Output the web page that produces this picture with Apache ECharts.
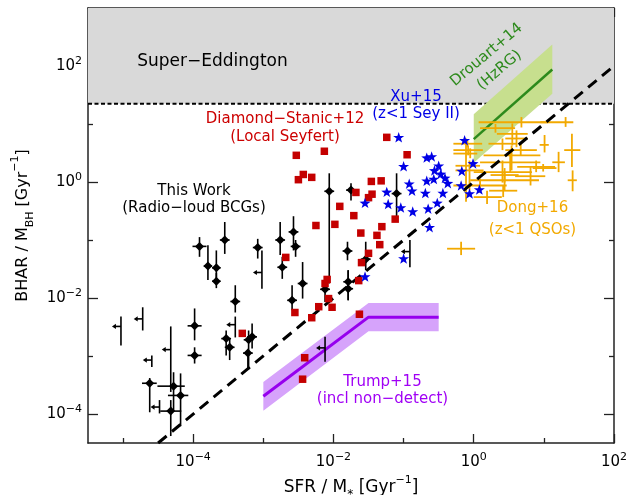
<!DOCTYPE html>
<html><head><meta charset="utf-8">
<script src="https://cdn.jsdelivr.net/npm/echarts@6/dist/echarts.min.js"></script>
<style>html,body{margin:0;padding:0;background:#fff}#c{width:631px;height:495px}</style>
</head><body><div id="c"></div>
<script>
// All values are log10 of the quantities (axes show 10^n)
const xMin = -5.5, xMax = 2, yMin = -4.5, yMax = 3;
const xMajorTicks = [-4, -2, 0, 2];
const xMinorTicks = [-5, -3, -1, 1];
const yMajorTicks = [-4, -2, 0, 2];
const yMinorTicks = [-3, -1, 1];

// This Work (radio-loud BCGs): detections with error bars
const thisWorkX   = [-4.62,-4.28,-4.18,-4.32,-3.98,-3.98,-3.91,-3.55,-3.79,-3.67,-3.67,-3.08,-2.76,-2.57,-2.54,-2.73,-2.44,-2.59,-2.06,-1.75,-1.10,-1.80,-1.54,-2.12,-1.79,-1.79,-3.40,-3.53,-3.48,-3.21,-3.16,-3.22];
const thisWorkY   = [-3.47,-3.52,-3.68,-3.95,-2.48,-2.99,-1.11,-1.00,-1.45,-1.48,-1.71,-1.13,-1.00,-0.86,-1.11,-1.47,-1.75,-2.04,-0.16,-0.14,-0.20,-1.19,-1.33,-1.85,-1.72,-1.84,-2.06,-2.70,-2.85,-2.72,-2.67,-2.95];
const thisWorkXLo = [-4.73,-4.51,-4.36,-4.47,-4.08,-4.08,-4.01,-3.62,-3.85,-3.73,-3.73,-3.15,-2.83,-2.64,-2.61,-2.80,-2.51,-2.66,-2.13,-1.82,-1.17,-1.87,-1.61,-2.19,-1.86,-1.86,-3.47,-3.60,-3.55,-3.28,-3.23,-3.29];
const thisWorkXHi = [-4.52,-4.12,-4.07,-4.17,-3.88,-3.88,-3.81,-3.48,-3.73,-3.61,-3.61,-3.01,-2.69,-2.50,-2.47,-2.66,-2.37,-2.52,-1.99,-1.68,-1.03,-1.73,-1.47,-2.05,-1.72,-1.72,-3.33,-3.46,-3.41,-3.14,-3.09,-3.15];
const thisWorkYLo = [-3.97,-3.94,-4.21,-4.38,-2.73,-3.13,-1.29,-1.24,-1.69,-1.67,-1.83,-1.32,-1.26,-1.18,-1.29,-1.67,-2.01,-2.21,-1.75,-0.32,-0.63,-1.35,-1.52,-2.07,-2.04,-2.04,-2.25,-2.99,-3.07,-3.23,-2.87,-3.22];
const thisWorkYHi = [-3.38,-3.28,-3.30,-3.76,-2.18,-2.85,-0.95,-0.69,-1.09,-1.18,-1.57,-0.98,-0.69,-0.59,-1.00,-1.29,-1.38,-1.78, 0.15,-0.02, 0.15,-1.03,-1.03,-1.64,-1.52,-1.52,-1.78,-2.56,-2.69,-2.56,-2.44,-2.95];

// This Work: SFR upper limits
const limitX   = [-5.03,-4.72,-4.59,-4.48,-4.32,-3.02,-3.40,-2.12,-0.91];
const limitY   = [-2.49,-2.36,-3.07,-3.88,-2.89,-1.56,-2.46,-2.86,-1.20];
const limitYLo = [-2.82,-2.56,-3.19,-3.99,-3.62,-1.84,-2.68,-3.10,-1.47];
const limitYHi = [-2.32,-2.16,-2.99,-3.76,-2.49,-1.18,-2.32,-2.67,-1.00];

// Diamond-Stanic+12 (local Seyferts)
const diamondX = [-2.53,-2.50,-2.43,-2.31,-2.25,-1.24,-2.13,-0.95,-1.46,-1.32,-1.45,-1.50,-1.68,-1.91,-1.71,-1.98,-1.12,-1.61,-1.31,-1.38,-1.34,-2.68,-1.50,-1.60,-2.55,-3.30,-2.21,-2.31,-2.09,-2.12,-2.07,-2.02,-1.64,-1.63,-2.41,-2.44];
const diamondY = [0.46,0.04,0.13,0.08,-0.75,0.77,0.53,0.47,0.01,0.02,-0.21,-0.27,-0.18,-0.42,-0.58,-0.73,-0.64,-0.88,-0.77,-0.92,-1.08,-1.30,-1.23,-1.39,-2.25,-2.61,-2.15,-2.34,-1.68,-1.75,-2.01,-2.16,-1.70,-2.28,-3.03,-3.40];

// Xu+15 (z<1 Sey II)
const xuX = [-1.07,-0.13,-1.00,-0.67,-0.60,-0.50,-0.56,-0.47,-0.57,-0.67,-0.41,-0.37,-0.92,-0.88,-1.24,-0.69,-0.44,-1.55,-1.22,-1.04,-0.52,-0.87,-0.65,-0.63,-0.17,-0.18,-0.06,0.08,-0.01,-1.00,-1.55];
const xuY = [0.77,0.72,0.27,0.42,0.44,0.28,0.20,0.14,0.05,0.02,0.07,-0.02,-0.03,-0.15,-0.17,-0.19,-0.19,-0.36,-0.38,-0.44,-0.36,-0.51,-0.46,-0.78,0.19,-0.06,-0.20,-0.13,0.32,-1.32,-1.63];

// Dong+16 (z<1 QSOs), error-bar crosses
const dongX   = [0.68,1.31,0.55,0.61,-0.09,0.41,-0.08,0.54,0.52,0.89,-0.06,0.41,0.44,0.44,0.09,0.42,1.01,1.40,1.21,1.41,0.99,-0.18,-0.11,-0.05,0.31,0.81,0.67,0.19];
const dongXLo = [0.07,0.95,0.33,0.45,-0.29,0.21,-0.29,0.14,0.09,0.62,-0.26,0.00,0.24,-0.05,-0.29,0.22,0.94,1.29,1.12,1.34,0.84,-0.38,-0.26,-0.29,0.09,0.59,0.45,0.00];
const dongXHi = [1.06,1.42,0.77,0.77,0.12,0.62,0.13,0.95,0.95,1.16,0.14,0.83,0.64,0.93,0.47,0.62,1.07,1.52,1.30,1.47,1.18,0.02,0.09,0.05,0.59,1.02,0.90,0.40];
const dongY   = [1.03,1.03,0.83,0.75,0.66,0.66,0.55,0.46,0.34,0.26,0.20,0.17,0.12,0.03,-0.06,-0.15,0.64,0.55,0.34,0.03,0.24,-1.15,0.28,0.49,0.93,0.10,0.55,-0.26];
const dongYLo = [0.94,0.95,0.63,0.60,0.60,0.55,0.46,0.20,0.17,0.17,-0.14,-0.01,-0.01,-0.14,-0.18,-0.26,0.51,0.26,0.17,-0.16,0.18,-1.26,-0.34,0.41,0.85,-0.06,0.45,-0.38];
const dongYHi = [1.12,1.12,1.01,0.89,0.72,0.75,0.63,0.63,0.55,0.37,0.37,0.37,0.24,0.17,0.06,-0.06,0.81,0.83,0.52,0.20,0.31,-1.03,0.75,0.58,1.00,0.27,0.66,-0.15];

// Trump+15 relation and band
const trumpX     = [-3.0, -1.5, -0.5];
const trumpY     = [-3.695, -2.33, -2.33];
const trumpUpper = [-3.45, -2.085, -2.085];
const trumpLower = [-3.945, -2.575, -2.575];

// Drouart+14 relation and band
const drouartX     = [0.0, 1.12];
const drouartY     = [0.74, 1.94];
const drouartUpper = [1.17, 2.37];
const drouartLower = [0.33, 1.52];

// Eddington limit and 1:1 line
const eddingtonY = 1.35;
const oneToOneX = [-4.5, 2];
const oneToOneY = [-4.5, 2];

const FONT = 'DejaVu Sans';
const zip = (...arrs) => arrs[0].map((_, i) => arrs.map(a => a[i]));

function bandSeries(xs, up, lo, color, z) {
  return {
    type: 'custom', z: z, silent: true, clip: false,
    data: [[xs[0], up[0]]], encode: { x: 0, y: 1 },
    renderItem: function (p, api) {
      const pts = xs.map((x, i) => api.coord([x, up[i]]));
      for (let i = xs.length - 1; i >= 0; i--) pts.push(api.coord([xs[i], lo[i]]));
      return { type: 'polygon', shape: { points: pts }, style: { fill: color } };
    }
  };
}

function crossSeries(data, color, width, z) {
  return {
    type: 'custom', z: z, silent: true, clip: true,
    data: data, encode: { x: 0, y: 1 },
    renderItem: function (p, api) {
      const x = api.value(0), y = api.value(1);
      const a = api.coord([api.value(2), y]), b = api.coord([api.value(3), y]);
      const c = api.coord([x, api.value(4)]), d = api.coord([x, api.value(5)]);
      return { type: 'group', children: [
        { type: 'line', shape: { x1: a[0], y1: a[1], x2: b[0], y2: b[1] }, style: { stroke: color, lineWidth: width } },
        { type: 'line', shape: { x1: c[0], y1: c[1], x2: d[0], y2: d[1] }, style: { stroke: color, lineWidth: width } }
      ] };
    }
  };
}

const limitSeries = {
  type: 'custom', z: 6, silent: true,
  data: zip(limitX, limitY, limitYLo, limitYHi), encode: { x: 0, y: 1 },
  renderItem: function (p, api) {
    const x = api.value(0), y = api.value(1);
    const m = api.coord([x, y]);
    const c = api.coord([x, api.value(2)]), d = api.coord([x, api.value(3)]);
    return { type: 'group', children: [
      { type: 'line', shape: { x1: c[0], y1: c[1], x2: d[0], y2: d[1] }, style: { stroke: '#000', lineWidth: 1.6 } },
      { type: 'line', shape: { x1: m[0], y1: m[1], x2: m[0] - 6, y2: m[1] }, style: { stroke: '#000', lineWidth: 1.6 } },
      { type: 'polygon', shape: { points: [[m[0] - 9, m[1]], [m[0] - 5, m[1] - 2.6], [m[0] - 5, m[1] + 2.6]] }, style: { fill: '#000' } }
    ] };
  }
};

const expFmt = v => '{b|10}{e|' + (v < 0 ? '\u2212' : '') + Math.abs(v) + '}';
const expRich = {
  b: { fontSize: 15, fontFamily: FONT, color: '#000', lineHeight: 20 },
  e: { fontSize: 11, fontFamily: FONT, color: '#000', lineHeight: 11, verticalAlign: 'top' }
};
const lineCol = '#222';

function axisBase(extra) {
  return Object.assign({
    type: 'value', splitLine: { show: false },
    axisLine: { show: false, onZero: false },
    axisLabel: { show: false }
  }, extra);
}

const xAxes = [
  axisBase({ min: xMin, max: xMax, position: 'bottom',
    axisLine: { show: true, onZero: false, lineStyle: { color: lineCol, width: 1.5 } },
    axisTick: { show: true, inside: true, length: 9, customValues: xMajorTicks, lineStyle: { color: lineCol, width: 1.3 } },
    axisLabel: { show: true, customValues: xMajorTicks, formatter: expFmt, rich: expRich, margin: 9 },
    name: 'SFR / M{s|*} [Gyr{e|\u22121}]', nameLocation: 'middle', nameGap: 31,
    nameTextStyle: { fontSize: 17, fontFamily: FONT, color: '#000', lineHeight: 26,
      rich: { s: { fontSize: 12, fontFamily: FONT, lineHeight: 12, verticalAlign: 'bottom', color: '#000' },
              e: { fontSize: 11, fontFamily: FONT, lineHeight: 11, verticalAlign: 'top', color: '#000' } } } }),
  axisBase({ min: xMin, max: xMax, position: 'bottom',
    axisTick: { show: true, inside: true, length: 5, customValues: xMinorTicks, lineStyle: { color: lineCol, width: 1.3 } } }),
  axisBase({ min: xMin, max: xMax, position: 'top',
    axisLine: { show: true, onZero: false, lineStyle: { color: lineCol, width: 1.5 } },
    axisTick: { show: true, inside: true, length: 9, customValues: xMajorTicks, lineStyle: { color: lineCol, width: 1.3 } } }),
  axisBase({ min: xMin, max: xMax, position: 'top',
    axisTick: { show: true, inside: true, length: 5, customValues: xMinorTicks, lineStyle: { color: lineCol, width: 1.3 } } })
];
const yAxes = [
  axisBase({ min: yMin, max: yMax, position: 'left',
    axisLine: { show: true, onZero: false, lineStyle: { color: lineCol, width: 1.5 } },
    axisTick: { show: true, inside: true, length: 10, customValues: yMajorTicks, lineStyle: { color: lineCol, width: 1.3 } },
    axisLabel: { show: true, customValues: yMajorTicks, formatter: expFmt, rich: expRich, margin: 6 },
    name: 'BHAR / M{s|BH} [Gyr{e|\u22121}]', nameLocation: 'middle', nameGap: 51,
    nameTextStyle: { fontSize: 16, fontFamily: FONT, color: '#000', lineHeight: 26,
      rich: { s: { fontSize: 11, fontFamily: FONT, lineHeight: 11, verticalAlign: 'bottom', color: '#000' },
              e: { fontSize: 11, fontFamily: FONT, lineHeight: 11, verticalAlign: 'top', color: '#000' } } } }),
  axisBase({ min: yMin, max: yMax, position: 'left',
    axisTick: { show: true, inside: true, length: 5, customValues: yMinorTicks, lineStyle: { color: lineCol, width: 1.3 } } }),
  axisBase({ min: yMin, max: yMax, position: 'right',
    axisLine: { show: true, onZero: false, lineStyle: { color: lineCol, width: 1.5 } },
    axisTick: { show: true, inside: true, length: 10, customValues: yMajorTicks, lineStyle: { color: lineCol, width: 1.3 } } }),
  axisBase({ min: yMin, max: yMax, position: 'right',
    axisTick: { show: true, inside: true, length: 5, customValues: yMinorTicks, lineStyle: { color: lineCol, width: 1.3 } } })
];

function label(text, x, y, color, size, rot) {
  return { type: 'text', x: x, y: y, rotation: rot || 0, z: 100, silent: true,
    style: { text: text, fill: color, font: (size || 15) + 'px "' + FONT + '"', textAlign: 'center', textVerticalAlign: 'middle', lineHeight: 20 } };
}

const starPath = 'path://M0,-10L2.35,-3.24L9.51,-3.09L3.8,1.24L5.88,8.09L0,4L-5.88,8.09L-3.8,1.24L-9.51,-3.09L-2.35,-3.24Z';

const option = {
  animation: false,
  textStyle: { fontFamily: FONT },
  grid: { left: 88, right: 17, top: 8, bottom: 52, containLabel: false, outerBoundsMode: 'none' },
  xAxis: xAxes,
  yAxis: yAxes,
  series: [
    bandSeries([xMin, xMax], [yMax, yMax], [eddingtonY, eddingtonY], '#d9d9d9', 1),
    { type: 'line', z: 2, silent: true, showSymbol: false, data: [[xMin, eddingtonY], [xMax, eddingtonY]],
      lineStyle: { color: '#000', width: 2, type: [4, 2.5] } },
    bandSeries(drouartX, drouartUpper, drouartLower, '#c7df8e', 3),
    { type: 'line', z: 4, silent: true, showSymbol: false, data: zip(drouartX, drouartY),
      lineStyle: { color: '#2d8a1c', width: 2.5 } },
    bandSeries(trumpX, trumpUpper, trumpLower, '#d6a3fb', 3),
    { type: 'line', z: 4, silent: true, showSymbol: false, data: zip(trumpX, trumpY),
      lineStyle: { color: '#9600ee', width: 3 } },
    crossSeries(zip(thisWorkX, thisWorkY, thisWorkXLo, thisWorkXHi, thisWorkYLo, thisWorkYHi), '#000', 1.6, 5),
    { type: 'scatter', z: 6, silent: true, data: zip(thisWorkX, thisWorkY), symbol: 'diamond', symbolSize: 9,
      itemStyle: { color: '#000', opacity: 1 } },
    limitSeries,
    crossSeries(zip(dongX, dongY, dongXLo, dongXHi, dongYLo, dongYHi), '#f2a900', 1.8, 7),
    { type: 'line', z: 8, silent: true, showSymbol: false, data: zip(oneToOneX, oneToOneY),
      lineStyle: { color: '#000', width: 3, type: [11, 7] } },
    { type: 'scatter', z: 9, silent: true, data: zip(diamondX, diamondY), symbol: 'rect', symbolSize: 7.5,
      itemStyle: { color: '#c40000', opacity: 1 } },
    { type: 'scatter', z: 10, silent: true, data: zip(xuX, xuY), symbol: starPath, symbolKeepAspect: true, symbolSize: 11,
      itemStyle: { color: '#0000e6', opacity: 1 } }
  ],
  graphic: [
    label('Super\u2212Eddington', 212.5, 62, '#000', 17),
    label('Diamond\u2212Stanic+12', 285, 119, '#cc0000'),
    label('(Local Seyfert)', 285, 137, '#cc0000'),
    label('Xu+15', 416, 97, '#0000e6'),
    label('(z<1 Sey II)', 416, 114, '#0000e6'),
    label('This Work', 194, 191, '#000'),
    label('(Radio\u2212loud BCGs)', 194, 208.5, '#000'),
    label('Dong+16', 532.5, 208.5, '#f2a900'),
    label('(z<1 QSOs)', 532.5, 230, '#f2a900'),
    label('Trump+15', 382.5, 382, '#a000f5'),
    label('(incl non\u2212detect)', 382.5, 399.5, '#a000f5'),
    label('Drouart+14\n(HzRG)', 493, 62.5, '#2d8a1c', 15, 40 * Math.PI / 180)
  ]
};

const chart = echarts.init(document.getElementById('c'), null, { renderer: 'canvas' });
chart.setOption(option);
</script>
</body></html>
